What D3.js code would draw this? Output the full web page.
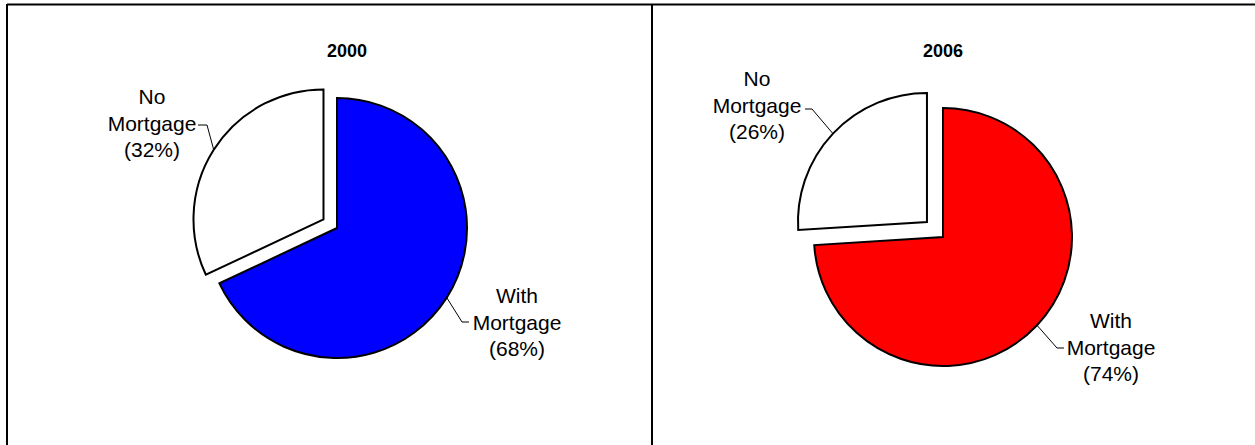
<!DOCTYPE html>
<html>
<head>
<meta charset="utf-8">
<script src="https://cdn.jsdelivr.net/npm/d3@7"></script>
<style>
  html, body { margin: 0; padding: 0; background: #fff; }
  svg { display: block; }
  text { font-family: "Liberation Sans", Arial, sans-serif; fill: #000; }
</style>
</head>
<body>
<svg id="chart" width="1255" height="445"></svg>
<script>
// Share of owner-occupied homes with and without a mortgage
const years = ["2000", "2006"];
const categories = ["With Mortgage", "No Mortgage"];
const withMortgage = [68, 74];
const noMortgage = [32, 26];
const sliceColors = { "With Mortgage": ["#0000ff", "#ff0000"], "No Mortgage": ["#ffffff", "#ffffff"] };

// Panel layout
const panels = [
  { x0: 7, x1: 652, cx: 337, cy: 228, r: 130, explode: 16, titleX: 347,
    labels: { "With Mortgage": { x: 517, y: 303, elbow: [462, 322], end: 469 },
              "No Mortgage":   { x: 152, y: 104, elbow: [207, 125], end: 198 } } },
  { x0: 652, x1: 1255, cx: 943, cy: 237, r: 129, explode: 22, titleX: 943,
    labels: { "With Mortgage": { x: 1111, y: 328, elbow: [1057, 348], end: 1064 },
              "No Mortgage":   { x: 757, y: 86, elbow: [812, 109], end: 805 } } }
];

const svg = d3.select("#chart");

// Frame lines
svg.append("line").attr("x1", 7).attr("x2", 1255).attr("y1", 4.5).attr("y2", 4.5)
  .attr("stroke", "#000").attr("stroke-width", 2);
svg.append("line").attr("x1", 7).attr("x2", 7).attr("y1", 4).attr("y2", 445)
  .attr("stroke", "#000").attr("stroke-width", 2);
svg.append("line").attr("x1", 652).attr("x2", 652).attr("y1", 4).attr("y2", 445)
  .attr("stroke", "#000").attr("stroke-width", 2);

const pie = d3.pie().sort(null).value(d => d.value).startAngle(0).endAngle(2 * Math.PI);

years.forEach((year, i) => {
  const p = panels[i];
  const data = categories.map(c => ({
    category: c,
    value: c === "With Mortgage" ? withMortgage[i] : noMortgage[i]
  }));
  const arcs = pie(data);
  const arc = d3.arc().innerRadius(0).outerRadius(p.r);

  const g = svg.append("g");

  g.append("text")
    .attr("x", p.titleX).attr("y", 57)
    .attr("text-anchor", "middle")
    .attr("font-size", 18).attr("font-weight", "bold")
    .text(year);

  arcs.forEach(a => {
    const mid = (a.startAngle + a.endAngle) / 2;
    const off = a.data.category === "No Mortgage" ? p.explode : 0;
    const ox = p.cx + off * Math.sin(mid);
    const oy = p.cy - off * Math.cos(mid);

    g.append("path")
      .attr("d", arc(a))
      .attr("transform", `translate(${ox},${oy})`)
      .attr("fill", sliceColors[a.data.category][i])
      .attr("stroke", "#000")
      .attr("stroke-width", 2)
      .attr("stroke-linejoin", "miter");

    // Leader line from the slice edge at its mid-angle to the label
    const lab = p.labels[a.data.category];
    const sx = ox + p.r * Math.sin(mid);
    const sy = oy - p.r * Math.cos(mid);
    g.append("polyline")
      .attr("points", [[sx, sy], lab.elbow, [lab.end, lab.elbow[1]]].map(q => q.join(",")).join(" "))
      .attr("fill", "none")
      .attr("stroke", "#000")
      .attr("stroke-width", 1);

    const words = a.data.category.split(" ");
    const lines = [words[0], words[1], `(${a.data.value}%)`];
    const t = g.append("text")
      .attr("text-anchor", "middle")
      .attr("font-size", 21);
    lines.forEach((ln, k) => {
      t.append("tspan").attr("x", lab.x).attr("y", lab.y + k * 26.7).text(ln);
    });
  });
});
</script>
</body>
</html>
